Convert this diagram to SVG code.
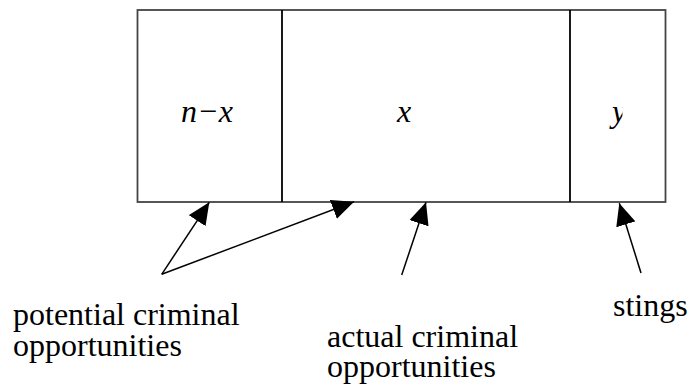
<svg xmlns="http://www.w3.org/2000/svg" width="693" height="387" viewBox="0 0 693 387">
<defs>
<style>
.lbl{font-family:'Liberation Serif','Times New Roman','DejaVu Serif',serif;font-size:32px;fill:#000}
.var{font-family:'Liberation Serif','Times New Roman','DejaVu Serif',serif;font-size:32px;font-style:italic;fill:#000}
.conn line{stroke:#000;stroke-width:1.5;marker-end:url(#ah)}
.div{stroke:#000;stroke-width:1.8}
</style>
<marker id="ah" viewBox="0 0 22 20" refX="22" refY="10" markerWidth="22" markerHeight="20" markerUnits="userSpaceOnUse" orient="auto">
<path d="M0,0 L22,10 L0,20 z" fill="#000"/>
</marker>
<clipPath id="yclip"><rect x="600" y="90" width="22.5" height="50"/></clipPath>
</defs>
<rect width="693" height="387" fill="#fff"/>
<g id="box">
<rect x="137.5" y="10" width="528" height="192" fill="#fff" stroke="#444" stroke-width="1.8"/>
<line class="div" x1="282" y1="10" x2="282" y2="202"/>
<line class="div" x1="570" y1="10" x2="570" y2="202"/>
</g>
<g id="cell-nx"><text class="var" x="207" y="122" text-anchor="middle">n−x</text></g>
<g id="cell-x"><text class="var" x="404" y="122" text-anchor="middle">x</text></g>
<g id="cell-y"><text class="var" x="619" y="122" text-anchor="middle" clip-path="url(#yclip)">y</text></g>
<g id="connectors" class="conn">
<line x1="161.7" y1="274.3" x2="209.3" y2="202.3"/>
<line x1="161.7" y1="274.3" x2="354" y2="201.7"/>
<line x1="401.7" y1="275" x2="426" y2="202.3"/>
<line x1="641" y1="273" x2="619.3" y2="203.3"/>
</g>
<g id="label-potential"><text class="lbl"><tspan x="13" y="325">potential criminal</tspan><tspan x="13" y="356">opportunities</tspan></text></g>
<g id="label-actual"><text class="lbl"><tspan x="327" y="347">actual criminal</tspan><tspan x="327" y="377">opportunities</tspan></text></g>
<g id="label-stings"><text class="lbl" x="613" y="316">stings</text></g>
</svg>
